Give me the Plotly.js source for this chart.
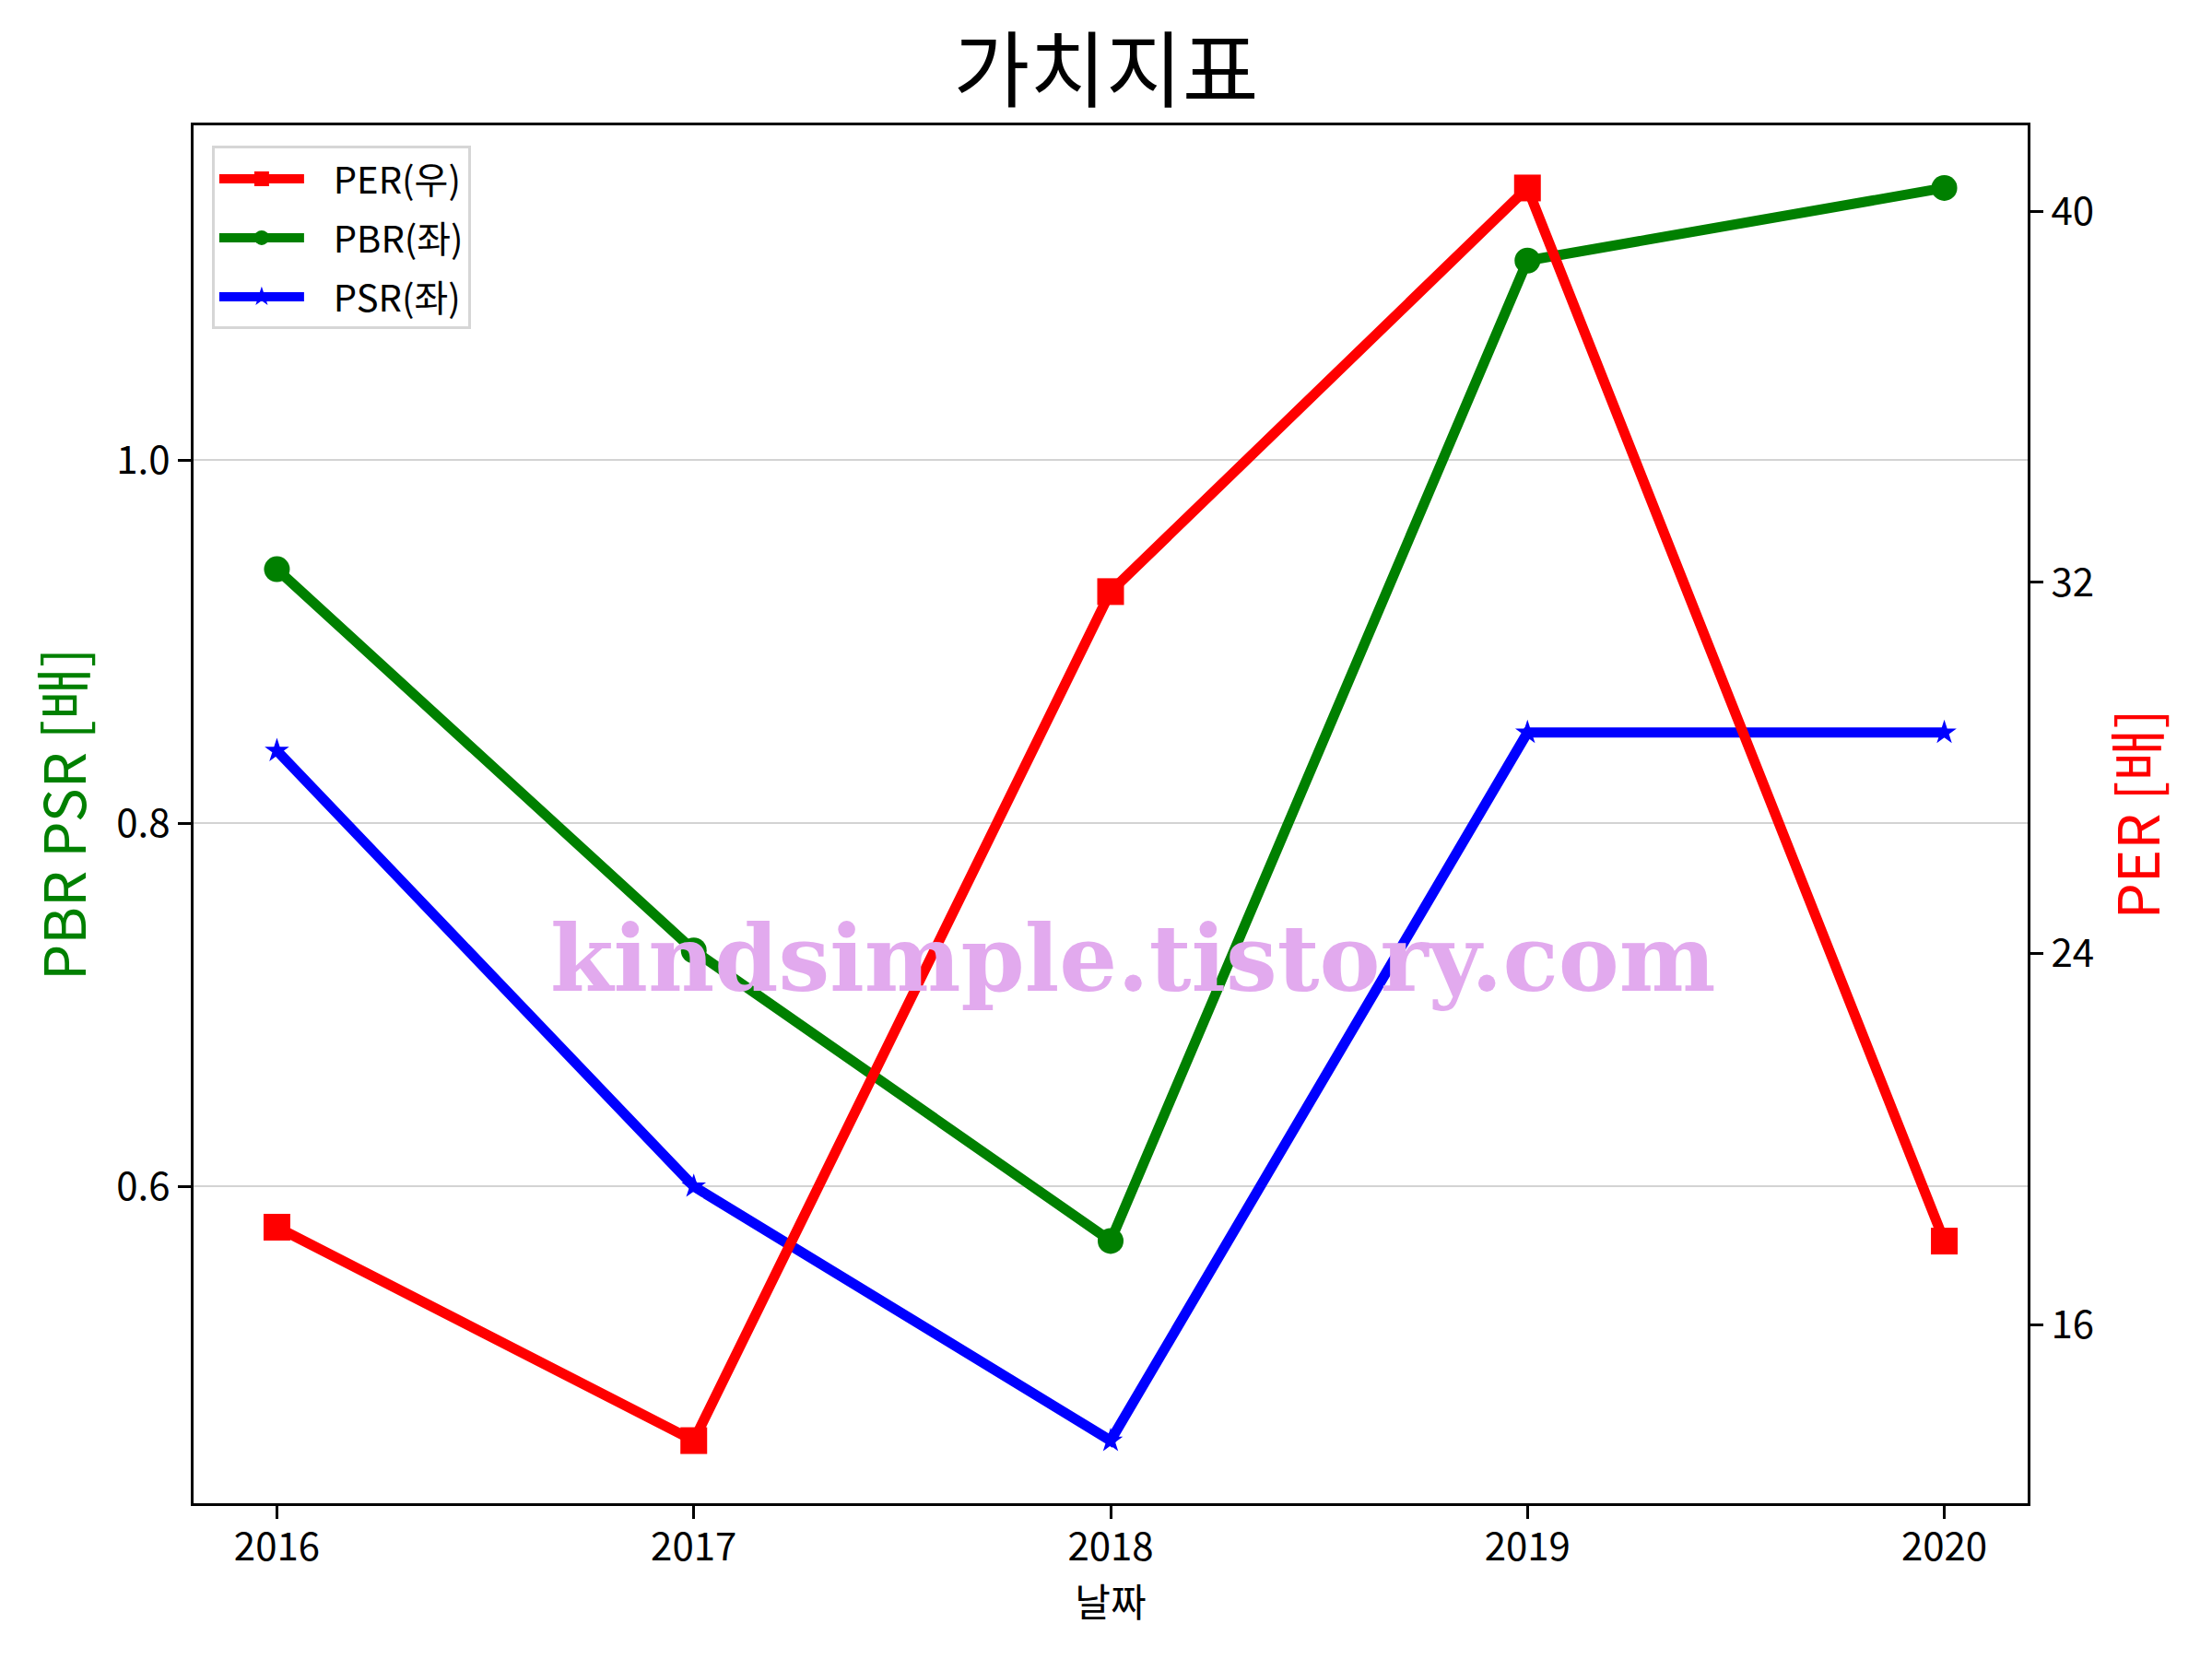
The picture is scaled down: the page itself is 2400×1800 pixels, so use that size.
<!DOCTYPE html>
<html>
<head>
<meta charset="utf-8">
<script src="https://cdn.plot.ly/plotly-3.0.1.min.js"></script>
<style>body{margin:0;padding:0;background:#fff;} #chart{width:2400px;height:1800px;}</style>
</head>
<body>
<div id="chart"></div>
<script>
const years = [2016, 2017, 2018, 2019, 2020];
const per = [18.1, 13.5, 31.8, 40.5, 17.8];
const pbr = [0.94, 0.73, 0.57, 1.11, 1.15];
const psr = [0.84, 0.60, 0.46, 0.85, 0.85];
const seriesNames = ["PER(우)", "PBR(좌)", "PSR(좌)"];
const xTicks = ["2016", "2017", "2018", "2019", "2020"];
const leftTicks = [0.6, 0.8, 1.0];
const rightTicks = [16, 24, 32, 40];

const FONT = "Noto Sans CJK KR, Noto Sans, sans-serif";
const GAP = "\u00A0\u00A0\u00A0";

const traces = [
  {x: years, y: per, name: GAP + seriesNames[0], yaxis: "y2", mode: "lines+markers", legendgroup: "a",
   line: {color: "#ff0000", width: 11}, marker: {symbol: "square", size: 29, color: "#ff0000"}},
  {x: years, y: pbr, name: GAP + seriesNames[1], yaxis: "y", mode: "lines+markers", legendgroup: "b",
   line: {color: "#008000", width: 11}, marker: {symbol: "circle", size: 28, color: "#008000"}},
  {x: years, y: psr, name: GAP + seriesNames[2], yaxis: "y", mode: "lines+markers", legendgroup: "c",
   line: {color: "#0000ff", width: 11}, marker: {symbol: "star", size: 20, color: "#0000ff"}}
];

const axisCommon = {
  showline: true, linecolor: "#000", linewidth: 3,
  ticks: "outside", ticklen: 14, tickwidth: 3, tickcolor: "#000",
  tickfont: {family: FONT, size: 42, color: "#000"},
  zeroline: false
};

const layout = {
  width: 2400, height: 1800,
  paper_bgcolor: "#fff", plot_bgcolor: "#fff",
  margin: {l: 210, r: 200, t: 136, b: 169, pad: 0},
  font: {family: FONT, color: "#000"},
  title: {text: "가치지표", font: {family: FONT, size: 90, color: "#000"},
          x: 0.5, xanchor: "center", y: 1 - 77/1800, yanchor: "middle", yref: "container"},
  xaxis: Object.assign({}, axisCommon, {
    range: [2015.8, 2020.2], tickvals: years, ticktext: xTicks, showgrid: false, mirror: true,
    ticklabelstandoff: -5,
    title: {text: "날짜", font: {family: FONT, size: 42, color: "#000"}, standoff: 4}
  }),
  yaxis: Object.assign({}, axisCommon, {
    range: [0.4255, 1.1845], tickvals: leftTicks, ticktext: leftTicks.map(v => v.toFixed(1)),
    showgrid: true, gridcolor: "#d3d3d3", gridwidth: 2, mirror: false,
    title: {text: "PBR PSR [배]", font: {family: FONT, size: 62, color: "#008000"}, standoff: 13}
  }),
  yaxis2: Object.assign({}, axisCommon, {
    range: [12.15, 41.85], tickvals: rightTicks, ticktext: rightTicks.map(String),
    overlaying: "y", side: "right", showgrid: false,
    title: {text: "PER [배]", font: {family: FONT, size: 62, color: "#ff0000"}, standoff: 29}
  }),
  legend: {
    x: 0.01, y: 0.985, xanchor: "left", yanchor: "top",
    bgcolor: "rgba(255,255,255,0.8)", bordercolor: "#d6d6d6", borderwidth: 3,
    font: {family: FONT, size: 40, color: "#000"}, itemwidth: 92,
    traceorder: "grouped", tracegroupgap: 9
  },
  annotations: [{
    text: "kindsimple.tistory.com", xref: "paper", yref: "paper",
    x: 0.512, y: 0.395, xanchor: "center", yanchor: "middle", showarrow: false,
    font: {family: "DejaVu Serif", size: 99, color: "#e2aaee", weight: "bold"}
  }],
  showlegend: true
};

Plotly.newPlot("chart", traces, layout, {displayModeBar: false, staticPlot: true});
</script>
</body>
</html>
